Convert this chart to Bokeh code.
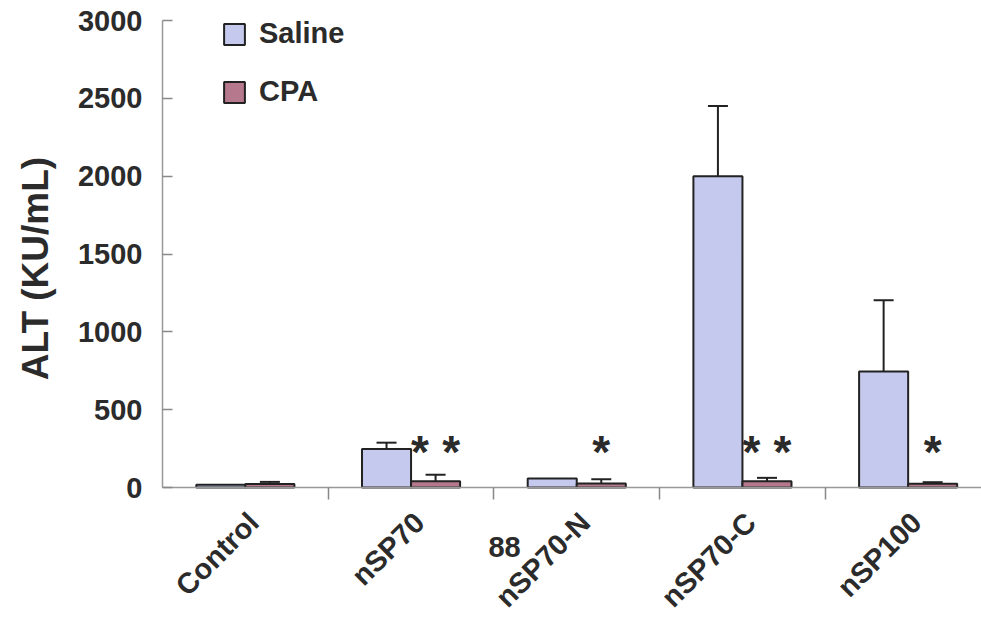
import math
from bokeh.plotting import figure
from bokeh.models import (Range1d, FixedTicker, ColumnDataSource, Whisker, TeeHead,
                          Legend, LegendItem, Label)
from bokeh.core.properties import value
from bokeh.embed import file_html
from bokeh.resources import INLINE

# ---- data ----
categories = ["Control", "nSP70", "nSP70-N", "nSP70-C", "nSP100"]
saline = [18, 248, 58, 2000, 745]
saline_err = [0, 40, 0, 450, 458]
cpa = [22, 40, 25, 40, 24]
cpa_err = [14, 42, 28, 22, 10]
star_counts = [0, 2, 1, 2, 1]
y_ticks = [0, 500, 1000, 1500, 2000, 2500, 3000]
y_title = "ALT (KU/mL)"

FONT = "Liberation Sans"
TXT = "#2b2b2b"
SALINE_COLOR = "#c5c9ee"
CPA_COLOR = "#b5788c"
BW = 0.296

centers = [i + 0.5 for i in range(len(categories))]
boundaries = [i + 1.0 for i in range(len(categories) - 1)]
label_pos = [c + 0.05 for c in centers]

# The frame covers the whole page; both axes are pinned at the data origin.
PX_X = 165.7            # pixels per category
PX_Y = 467.0 / 3000     # pixels per KU/mL
X0, Y0 = 162, 487       # page pixel of the origin
x_start = -X0 / PX_X
x_end = (981 - X0) / PX_X
y_start = -(622 - Y0) / PX_Y
y_end = 3000 + 20 / PX_Y

p = figure(width=981, height=622, output_backend="svg", toolbar_location=None,
           x_range=Range1d(x_start, x_end), y_range=Range1d(y_start, y_end),
           min_border_left=0, min_border_right=0, min_border_top=0,
           min_border_bottom=0)
p.outline_line_color = None
p.xgrid.grid_line_color = None
p.ygrid.grid_line_color = None
p.background_fill_color = "white"
p.border_fill_color = "white"

src_s = ColumnDataSource(dict(x=[c - BW / 2 for c in centers], top=saline,
                              err=[v + e for v, e in zip(saline, saline_err)]))
src_c = ColumnDataSource(dict(x=[c + BW / 2 for c in centers], top=cpa,
                              err=[v + e for v, e in zip(cpa, cpa_err)]))

r_s = p.vbar(x="x", top="top", bottom=0, width=BW, source=src_s,
             fill_color=SALINE_COLOR, line_color="#222222", line_width=2)
r_c = p.vbar(x="x", top="top", bottom=0, width=BW, source=src_c,
             fill_color=CPA_COLOR, line_color="#222222", line_width=2)

# error bars (upper only)
for src, errs in ((src_s, saline_err), (src_c, cpa_err)):
    idx = [i for i, e in enumerate(errs) if e > 0]
    sub = ColumnDataSource(dict(x=[src.data["x"][i] for i in idx],
                                lo=[src.data["top"][i] for i in idx],
                                hi=[src.data["err"][i] for i in idx]))
    w = Whisker(base="x", lower="lo", upper="hi", source=sub, dimension="height",
                line_color="#222222", line_width=2,
                upper_head=TeeHead(size=20, line_width=2, line_color="#222222"),
                lower_head=None)
    p.add_layout(w)

# significance asterisks
sx, sy = [], []
for c, n in zip(centers, star_counts):
    base = c + BW / 2
    if n == 1:
        sx.append(base)
    elif n == 2:
        sx.extend([base - 0.094, base + 0.094])
    sy.extend([225] * n)
p.text(x=sx, y=sy, text=["*"] * len(sx), text_align="center",
       text_baseline="alphabetic", text_font=value(FONT), text_font_style="bold",
       text_font_size="46px", text_color=TXT)

# axes
xa = p.xaxis[0]
xa.fixed_location = 0
xa.bounds = (0, x_end)
xa.ticker = FixedTicker(ticks=label_pos, minor_ticks=boundaries)
xa.major_label_overrides = {c: lab for c, lab in zip(label_pos, categories)}
xa.major_label_orientation = math.pi / 4
xa.major_tick_line_color = None
xa.major_tick_in = 0
xa.major_tick_out = 0
xa.minor_tick_in = 0
xa.minor_tick_out = 12
xa.minor_tick_line_color = "#888888"
xa.minor_tick_line_width = 1.5
xa.axis_line_color = "#999999"
xa.axis_line_width = 1.5
xa.major_label_text_font = FONT
xa.major_label_text_font_style = "bold"
xa.major_label_text_font_size = "29px"
xa.major_label_text_color = TXT
xa.major_label_standoff = 18

ya = p.yaxis[0]
ya.fixed_location = 0
ya.bounds = (0, 3000)
ya.ticker = FixedTicker(ticks=y_ticks, minor_ticks=[])
ya.major_tick_in = 10
ya.major_tick_out = 0
ya.major_tick_line_color = "#888888"
ya.major_tick_line_width = 1.5
ya.axis_line_color = "#999999"
ya.axis_line_width = 1.5
ya.major_label_text_font = FONT
ya.major_label_text_font_style = "bold"
ya.major_label_text_font_size = "29px"
ya.major_label_text_color = TXT
ya.major_label_standoff = 20

# y-axis title
p.add_layout(Label(x=(35 - X0) / PX_X, y=(Y0 - 268) / PX_Y, text=y_title,
                   angle=math.pi / 2, text_align="center", text_baseline="middle",
                   text_font=FONT, text_font_style="bold", text_font_size="37px",
                   text_color=TXT))

legend = Legend(items=[LegendItem(label="Saline", renderers=[r_s]),
                       LegendItem(label="CPA", renderers=[r_c])],
                location=(59 + X0, 514), orientation="vertical",
                glyph_width=26, glyph_height=26, label_height=26,
                label_standoff=12, spacing=25, padding=0, margin=0,
                border_line_color=None, background_fill_alpha=0,
                label_text_font=FONT, label_text_font_style="bold",
                label_text_font_size="29px", label_text_color=TXT)
p.add_layout(legend)

p.add_layout(Label(x=2.064, y=-385, text="88", text_align="center",
                   text_baseline="middle", text_font=FONT, text_font_style="bold",
                   text_font_size="29px", text_color=TXT))

open("out.html", "w").write(file_html(p, INLINE))
